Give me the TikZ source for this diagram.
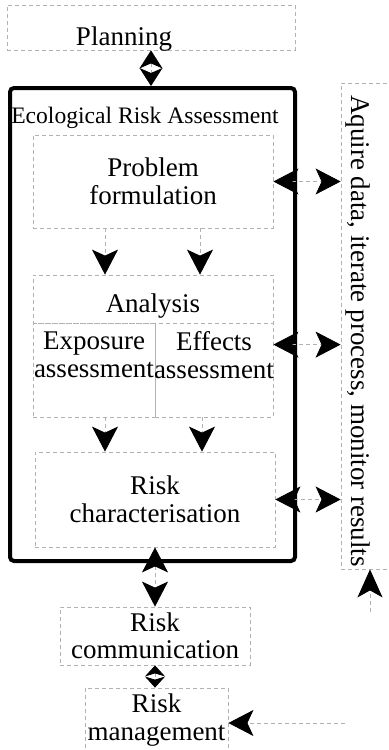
\documentclass[tikz,border=0pt]{standalone}
\usepackage{fontspec}
\setmainfont{Liberation Serif}
\usetikzlibrary{arrows.meta, positioning}

\begin{document}
\begin{tikzpicture}[
  x=0.5pt, y=-0.5pt,
  box/.style={draw=gray!60, dash pattern=on 2pt off 1.5pt, thin, inner sep=0pt},
  txt/.style={font=\fontsize{13.5}{13.75}\selectfont, align=center, inner sep=0pt},
  link/.style={draw=gray!60, dash pattern=on 2pt off 1.5pt, thin},
  hd/.tip={Stealth[black, length=12.5pt, width=13pt, inset=3pt]},
  md/.tip={Stealth[black, length=9pt, width=11.5pt, inset=2.5pt]},
  sm/.tip={Stealth[black, length=5.5pt, width=10pt, inset=1.5pt]},
  lg/.tip={Stealth[black, length=14pt, width=12.5pt, inset=3.5pt]}
]
  \useasboundingbox (0,0) rectangle (388,750);

  % Planning
  \node[box, minimum width=144pt, minimum height=22.5pt] (plan) at (151,27.5) {};
  \node[txt] (plantxt) at (124,39) {Planning};

  % Ecological risk assessment frame
  \node[draw, line width=2pt, rounded corners=2pt, minimum width=142.5pt, minimum height=236.5pt] (era) at (152.5,324.5) {};
  \node[font=\fontsize{11.8}{14}\selectfont, inner sep=0pt] (eratxt) at (145,118) {Ecological Risk Assessment};

  \node[box, txt, minimum width=120pt, minimum height=46.5pt] (prob) at (153,181.5) {Problem\\formulation};
  \node[box, minimum width=120pt, minimum height=24pt] (anal) at (153,299) {};
  \node[txt] (analtxt) at (153,306) {Analysis};
  \node[box, minimum width=61pt, minimum height=47pt] (expo) at (94,370) {};
  \node[txt] (expotxt) at (94,355) {Exposure\\assessment};
  \node[box, minimum width=59pt, minimum height=47pt] (effe) at (214,370) {};
  \node[txt] (effetxt) at (214,355) {Effects\\assessment};
  \node[box, txt, minimum width=120pt, minimum height=47.5pt] (risk) at (155,499.5) {Risk\\characterisation};

  % below the frame
  \node[box, txt, minimum width=95pt, minimum height=29pt] (comm) at (155,636) {Risk\\communication};
  \node[box, txt, minimum width=71.5pt, minimum height=32pt] (mgmt) at (156.5,720) {Risk\\management};

  % side note
  \node[box, minimum width=30pt, minimum height=243pt] (actbox) at (371,326) {};
  \node[txt, rotate=-90] (act) at (358,331) {Aquire data, iterate process, monitor results};

  % connectors
  \draw[link, md-md] (plan.south) -- (plan.south |- era.north);
  \foreach \dx in {-24,23.5}
    \draw[link, -hd] ([xshift=\dx pt]prob.south) -- ([xshift=\dx pt]anal.north);
  \foreach \dx in {-24,24.5}
    \draw[link, -hd] ([xshift=\dx pt]anal.south |- expo.south) -- ([xshift=\dx pt]anal.south |- risk.north);

  \draw[link, hd-hd] (prob.east) -- (prob.east -| actbox.west);
  \draw[link, hd-hd] ([yshift=-11pt]effe.north east) -- ([yshift=-11pt]effe.north east -| actbox.west);
  \draw[link, hd-hd] (risk.east) -- (risk.east -| actbox.west);

  \draw[link, hd-hd] (risk.south) -- (comm.north);
  \draw[link, sm-sm] (comm.south) -- (comm.south |- mgmt.north);

  \coordinate (fbup) at (370,612);
  \coordinate (fbin) at (345,723);
  \draw[link, -lg] (fbup) -- (fbup |- actbox.south);
  \draw[link, -hd] (fbin) -- (fbin -| mgmt.east);
\end{tikzpicture}
\end{document}
